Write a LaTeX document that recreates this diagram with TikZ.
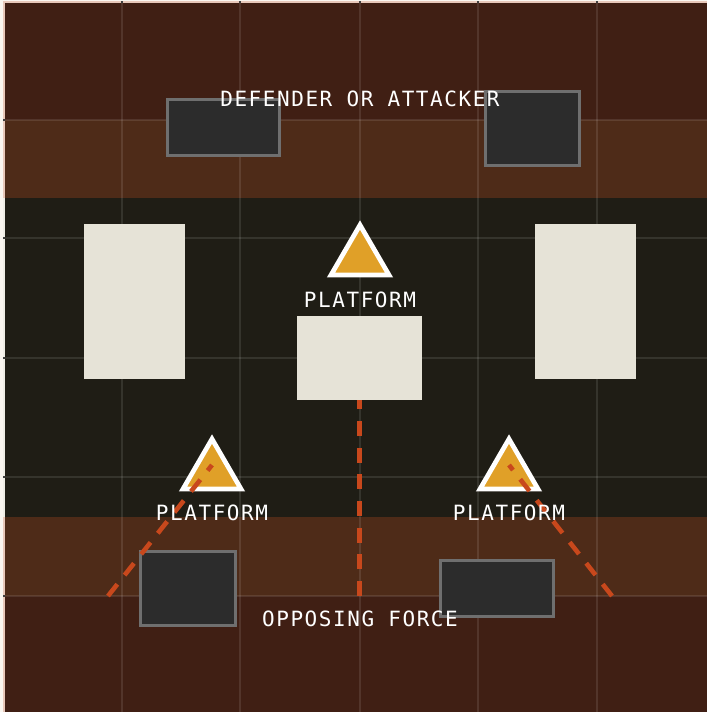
\documentclass[tikz,border=0pt]{standalone}
\usepackage{fontspec}
\newfontfamily\lblfont[LetterSpace=7.4]{DejaVu Sans Mono}
\definecolor{pagebg}{HTML}{FAF6F0}
\definecolor{stripred}{HTML}{E8C8BA}
\definecolor{stripdark}{HTML}{F0EEE6}
\definecolor{zonered}{HTML}{401F14}
\definecolor{zonebrown}{HTML}{4E2B18}
\definecolor{zonedark}{HTML}{1F1D15}
\definecolor{bldfill}{HTML}{2C2C2C}
\definecolor{bldline}{HTML}{6F6F6F}
\definecolor{cover}{HTML}{E6E3D7}
\definecolor{platfill}{HTML}{E0A028}
\definecolor{route}{HTML}{C8481C}
\tikzset{
  x=1pt,y=-1pt,
  gridln/.style={white,opacity=.1,line width=1.5pt},
  tick/.style={draw=black!75,line width=1.4pt},
  bld/.style={draw=bldline,fill=bldfill,line width=3pt,inner sep=0pt,outer sep=0pt},
  coverbox/.style={fill=cover,draw=none,inner sep=0pt,outer sep=0pt},
  plat/.style={fill=platfill,draw=white,line width=4.7pt,line join=miter,miter limit=10},
  routeln/.style={draw=route,line width=4.6pt,dash pattern=on 15pt off 11.7pt},
  lbl/.style={text=white,font=\lblfont\fontsize{21}{25}\selectfont,inner sep=0pt,anchor=base}
}
\begin{document}
\begin{tikzpicture}
\useasboundingbox (0,0) rectangle (707,712);
\fill[pagebg] (0,0) rectangle (707,712);
% strips
\fill[stripred] (3,1) rectangle (707,198);
\fill[stripdark] (3,198) rectangle (5,517);
\fill[stripred] (3,517) rectangle (5,712);
% zones
\fill[zonered] (5,3) rectangle (707,120);
\fill[zonebrown] (5,120) rectangle (707,198);
\fill[zonedark] (5,198) rectangle (707,517);
\fill[zonebrown] (5,517) rectangle (707,596);
\fill[zonered] (5,596) rectangle (707,712);
% grid
\foreach \gx in {122,240,360,478,597} {
  \draw[gridln] (\gx,3) -- (\gx,712);
  \draw[tick] (\gx,1) -- (\gx,3);
}
\foreach \gy in {120,238,358,477,596} {
  \draw[gridln] (5,\gy) -- (707,\gy);
  \draw[tick] (3,\gy) -- (5,\gy);
}
% buildings
\node[bld,minimum width=112.5pt,minimum height=56pt] (b1) at (223.25,127.5) {};
\node[bld,minimum width=94.5pt,minimum height=74pt] (b2) at (532.25,128) {};
\node[bld,minimum width=95pt,minimum height=74.5pt] (b3) at (187.5,588.25) {};
\node[bld,minimum width=113pt,minimum height=56.5pt] (b4) at (496.5,588.25) {};
% cover
\node[coverbox,minimum width=101pt,minimum height=155pt] (c1) at (134.5,301.5) {};
\node[coverbox,minimum width=101pt,minimum height=155pt] (c2) at (585.5,301.5) {};
\node[coverbox,minimum width=125pt,minimum height=84pt] (c3) at (359.5,358) {};
% platforms
\draw[plat] (360,225) -- (389,275) -- (331,275) -- cycle;
\draw[plat] (212,439) -- (241,489) -- (183,489) -- cycle;
\draw[plat] (509,439) -- (538,489) -- (480,489) -- cycle;
% routes
\coordinate (s1) at (108,596);
\coordinate (s2) at (359.7,596);
\coordinate (s3) at (612,596);
\coordinate (t1) at (212,465);
\coordinate (t3) at (509,465);
\coordinate (t2) at (359.7,400);
\draw[routeln] (s1) -- (t1);
\draw[routeln] (s2) -- (t2);
\draw[routeln] (s3) -- (t3);
% labels
\node[lbl] (l1) at (360,106.5) {DEFENDER OR ATTACKER};
\node[lbl] (l2) at (360,307) {PLATFORM};
\node[lbl] (l3) at (212,520.5) {PLATFORM};
\node[lbl] (l4) at (509,520.5) {PLATFORM};
\node[lbl] (l5) at (360,626.5) {OPPOSING FORCE};
\end{tikzpicture}
\end{document}
